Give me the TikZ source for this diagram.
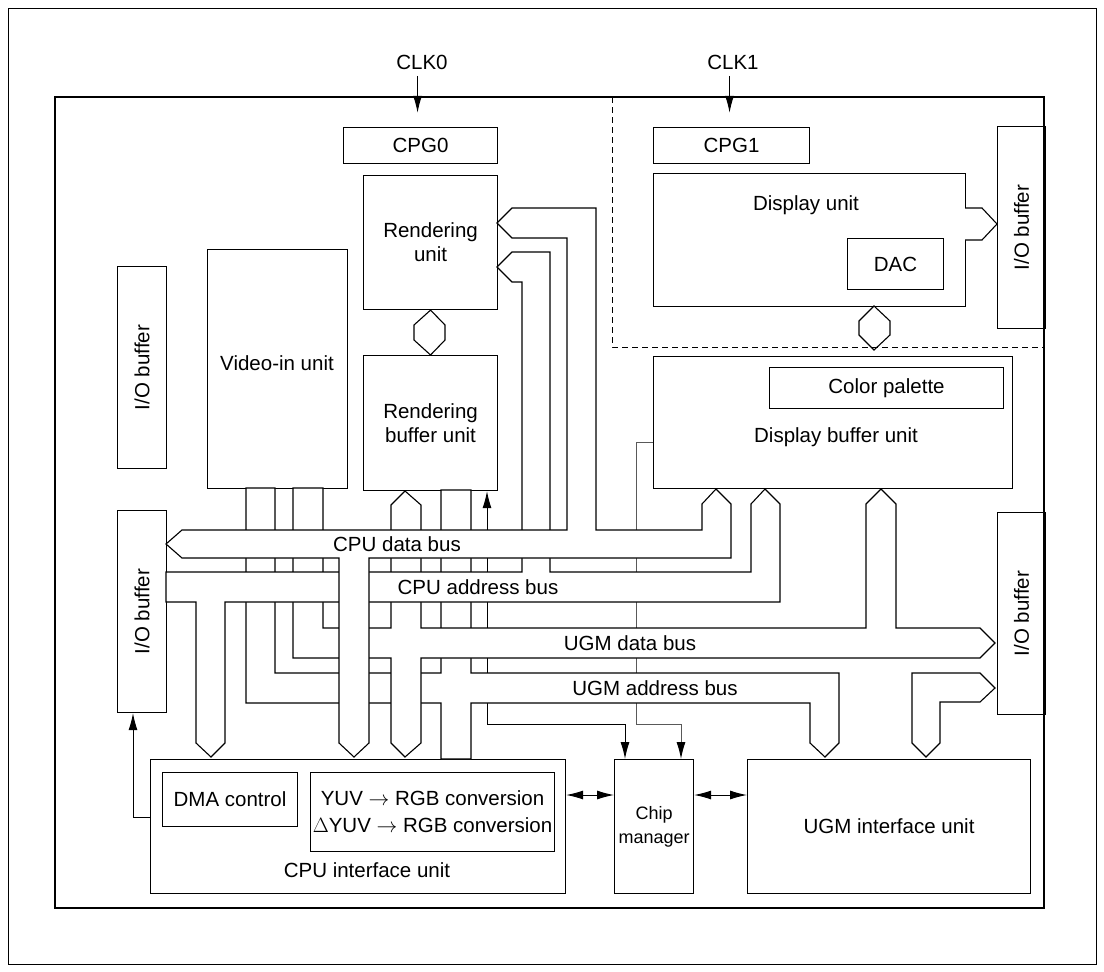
\documentclass[tikz,border=0pt]{standalone}
\usepackage{fontspec}
\setmainfont{Liberation Sans}
\usetikzlibrary{arrows.meta}
\begin{document}
\begin{tikzpicture}[x=1pt,y=-1pt,line width=1.1pt,line join=miter,
  box/.style={draw,line width=1.1pt,anchor=north west,inner sep=0pt},
  lbl/.style={font=\fontsize{20.5}{24}\selectfont,inner sep=0pt,align=center},
  slbl/.style={font=\fontsize{18}{22}\selectfont,inner sep=0pt,align=center},
  bus/.style={draw,fill=white,line width=1.1pt},
  tip/.style={-{Latex[length=17pt,width=9pt,color=black]}},
  dtip/.style={{Latex[length=17pt,width=9pt]}-{Latex[length=17pt,width=9pt]}},
  thin/.style={line width=1pt}]
\useasboundingbox (0,0) rectangle (1104,972);
\draw[line width=1pt] (8,8) rectangle (1096,964);
\draw (55,97) rectangle (1044,908);
\draw[dashed,dash pattern=on 6pt off 4pt,line width=1pt] (612,97) -- (612,347) -- (1044,347);

% boxes
\node[box,minimum width=154pt,minimum height=36pt] (cpg0) at (343,127) {};
\node[lbl] at (cpg0.center) {CPG0};
\node[box,minimum width=156pt,minimum height=36pt] (cpg1) at (653,127) {};
\node[lbl] at (cpg1.center) {CPG1};
\node[lbl] (clk0) at (422,62) {CLK0};
\node[lbl] (clk1) at (733,62) {CLK1};
\draw[tip] (clk0.south -| cpg0.north) ++(-3pt,-6pt) -- ++(0,-37pt);
\draw[tip] (clk1.south -| cpg1.north) ++(-2pt,-6pt) -- ++(0,-37pt);

\node[box,minimum width=134pt,minimum height=134pt] (rend) at (363,175) {};
\node[lbl] at (rend.center) {Rendering\\unit};
\node[box,minimum width=134pt,minimum height=135pt] (rbuf) at (363,355) {};
\node[lbl] at (rbuf.center) {Rendering\\buffer unit};
\node[box,minimum width=140pt,minimum height=239pt] (video) at (207,249) {};
\node[lbl] at (277,363) {Video-in unit};

\node[box,minimum width=49pt,minimum height=202pt] (io1) at (117,266) {};
\node[lbl,rotate=90] at (io1.center) {I/O buffer};
\node[box,minimum width=49pt,minimum height=202pt] (io2) at (117,510) {};
\node[lbl,rotate=90] at (io2.center) {I/O buffer};
\node[box,minimum width=48pt,minimum height=202pt] (io3) at (997,126) {};
\node[lbl,rotate=90] at (io3.center) {I/O buffer};
\node[box,minimum width=48pt,minimum height=202pt] (io4) at (997,512) {};
\node[lbl,rotate=90] at (io4.center) {I/O buffer};

\node[box,minimum width=312pt,minimum height=133pt] (disp) at (653,173) {};
\node[lbl] at (806,205) {Display unit};
\node[box,minimum width=96pt,minimum height=51pt] (dac) at (847,238) {};
\node[lbl] at (dac.center) {DAC};

\node[box,minimum width=359pt,minimum height=132pt] (dbuf) at (653,356) {};
\node[lbl] at (836,437) {Display buffer unit};
\node[box,minimum width=234pt,minimum height=41pt] (pal) at (769,367) {};
\node[lbl] at (pal.center) {Color palette};

\node[box,minimum width=415pt,minimum height=134pt] (cpuif) at (150,759) {};
\node[lbl] at (367,870) {CPU interface unit};
\node[box,minimum width=135pt,minimum height=54pt] (dma) at (162,772) {};
\node[lbl] at (dma.center) {DMA control};
\node[box,minimum width=244pt,minimum height=79pt] (yuv) at (310,772) {};
\node[lbl] at (yuv.center) {YUV $\rightarrow$ RGB conversion\\[3pt]$\Delta$YUV $\rightarrow$ RGB conversion};
\node[box,minimum width=79pt,minimum height=134pt] (chipm) at (614,759) {};
\node[slbl] at (chipm.center) {Chip\\[2pt]manager};
\node[box,minimum width=283pt,minimum height=134pt] (ugmif) at (747,759) {};
\node[lbl] at (ugmif.center) {UGM interface unit};

% hexagon links
\draw (rend.south) -- (445,325) -- (445,340) -- (rbuf.north) -- (414,340) -- (414,325) -- cycle;
\draw (874,306) -- (890,321) -- (890,335) -- (874,350) -- (859,335) -- (859,321) -- cycle;

% thin lines
\draw[tip,thin,black!65] (dbuf.west |- 0,442) -- (636,442) -- (636,724) -- (681,724) -- (chipm.north -| 681,0);
\draw[tip,thin] (487,724) -- (rbuf.south -| 487,0);
\draw[tip,thin] (487,724) -- (625,724) -- (chipm.north -| 625,0);
\draw[tip,thin] (cpuif.west |- 0,817) -- (133,817) -- (io2.south -| 133,0);
\draw[dtip,thin] (cpuif.east |- 0,795) -- (chipm.west |- 0,795);
\draw[dtip,thin] (chipm.east |- 0,795) -- (ugmif.west |- 0,795);

% UGM address bus (with video-in, rendering buffer and CPU interface branches)
\draw[bus] (246,488) -- (246,703) -- (441,703) -- (441,759) -- (471,759) -- (471,703) -- (810,703) -- (810,743) -- (825,757) -- (839,743) -- (839,673) -- (471,673) -- (471,490) -- (441,490) -- (441,673) -- (275,673) -- (275,488) -- cycle;
% UGM data bus
\draw[bus] (293,488) -- (293,658) -- (391,658) -- (391,743) -- (405,757) -- (421,743) -- (421,658) -- (980,658) -- (995,643) -- (980,628) -- (896,628) -- (896,504) -- (881,489) -- (866,504) -- (866,628) -- (421,628) -- (421,505) -- (405,491) -- (391,505) -- (391,628) -- (323,628) -- (323,488) -- cycle;
% IO <-> UGM interface
\draw[bus] (995,688) -- (980,673) -- (912,673) -- (912,743) -- (926,757) -- (940,743) -- (940,702) -- (980,702) -- cycle;
% display unit -> IO
\draw[bus] (965,208) -- (982,208) -- (997,224) -- (982,240) -- (965,240);
% CPU address bus
\draw[bus] (166,572) -- (522,572) -- (522,282) -- (512,282) -- (497,267) -- (512,252) -- (550,252) -- (550,572) -- (751,572) -- (751,504) -- (765,489) -- (780,504) -- (780,602) -- (225,602) -- (225,743) -- (211,757) -- (196,743) -- (196,602) -- (166,602) -- cycle;
% CPU data bus
\draw[bus] (166,544) -- (182,530) -- (567,530) -- (567,238) -- (512,238) -- (497,223) -- (512,208) -- (596,208) -- (596,530) -- (702,530) -- (702,504) -- (716,489) -- (731,504) -- (731,558) -- (369,558) -- (369,743) -- (354,757) -- (339,743) -- (339,558) -- (182,558) -- cycle;

% bus labels
\node[lbl] at (397,544) {CPU data bus};
\node[lbl] at (478,587) {CPU address bus};
\node[lbl] at (630,643) {UGM data bus};
\node[lbl] at (655,688) {UGM address bus};
\end{tikzpicture}
\end{document}
